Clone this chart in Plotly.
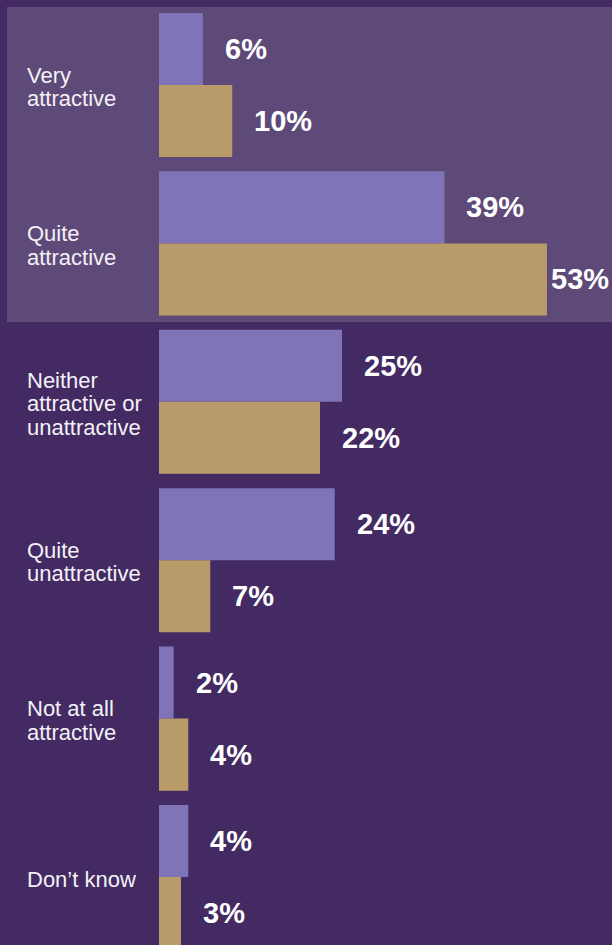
import plotly.graph_objects as go

categories = ["Very<br>attractive", "Quite<br>attractive", "Neither<br>attractive or<br>unattractive",
              "Quite<br>unattractive", "Not at all<br>attractive", "Don\u2019t know"]
series_a = [6, 39, 25, 24, 2, 4]
series_b = [10, 53, 22, 7, 4, 3]
series_names = ["Series A", "Series B"]

BG = "#432a63"
HILITE = "#5e4a78"
PURPLE = "#7f74b7"
GOLD = "#b99b6a"

W, H = 612, 945
x_left_px = 159
px_per_unit = 7.32
x_max = (W - x_left_px) / px_per_unit

pitch = 158.4
first_center = 85
y_top = -first_center / pitch
y_bot = (H - first_center) / pitch

idx = list(range(len(categories)))

fig = go.Figure()
for vals, col, name in [(series_a, PURPLE, series_names[0]), (series_b, GOLD, series_names[1])]:
    fig.add_trace(go.Bar(x=vals, y=idx, orientation="h", marker=dict(color=col, line=dict(width=0)),
                         name=name, hoverinfo="skip"))

annotations = []
line_h = 23.5
for i, c in enumerate(categories):
    lines = c.split("<br>")
    n = len(lines)
    for j, ln in enumerate(lines):
        annotations.append(dict(x=25 / W, xref="paper", y=i, yref="y", text=ln, showarrow=False,
                                xanchor="left", yanchor="middle", align="left",
                                yshift=((n - 1) / 2 - j) * line_h - 2,
                                font=dict(family="Liberation Sans, Arial", size=22, color="#f3f1f7")))

label_w = 62
for k, vals in enumerate([series_a, series_b]):
    for i, v in enumerate(vals):
        ypos = i - 0.2273 if k == 0 else i + 0.2273
        end_px = x_left_px + v * px_per_unit + 20 + label_w
        if end_px > W:
            a = dict(x=1, xref="paper", xanchor="right", xshift=-1)
        else:
            a = dict(x=v, xref="x", xanchor="left", xshift=20)
        a.update(y=ypos, yref="y", yanchor="middle", text=f"{v}%", showarrow=False,
                 font=dict(family="Liberation Sans, Arial", size=29, color="white", weight="bold"))
        annotations.append(a)

fig.update_layout(
    width=W, height=H, margin=dict(l=0, r=0, t=0, b=0),
    paper_bgcolor=BG, plot_bgcolor="rgba(0,0,0,0)",
    barmode="group", bargap=0.09, bargroupgap=0,
    showlegend=False,
    xaxis=dict(domain=[x_left_px / W, 1], range=[0, x_max], visible=False, fixedrange=True),
    yaxis=dict(range=[y_bot, y_top], visible=False, fixedrange=True),
    shapes=[dict(type="rect", xref="paper", yref="paper", x0=7 / W, x1=1,
                 y0=1 - 322 / H, y1=1 - 7 / H, fillcolor=HILITE, line=dict(width=0), layer="below")],
    annotations=annotations,
)
fig.write_html("out.html")
